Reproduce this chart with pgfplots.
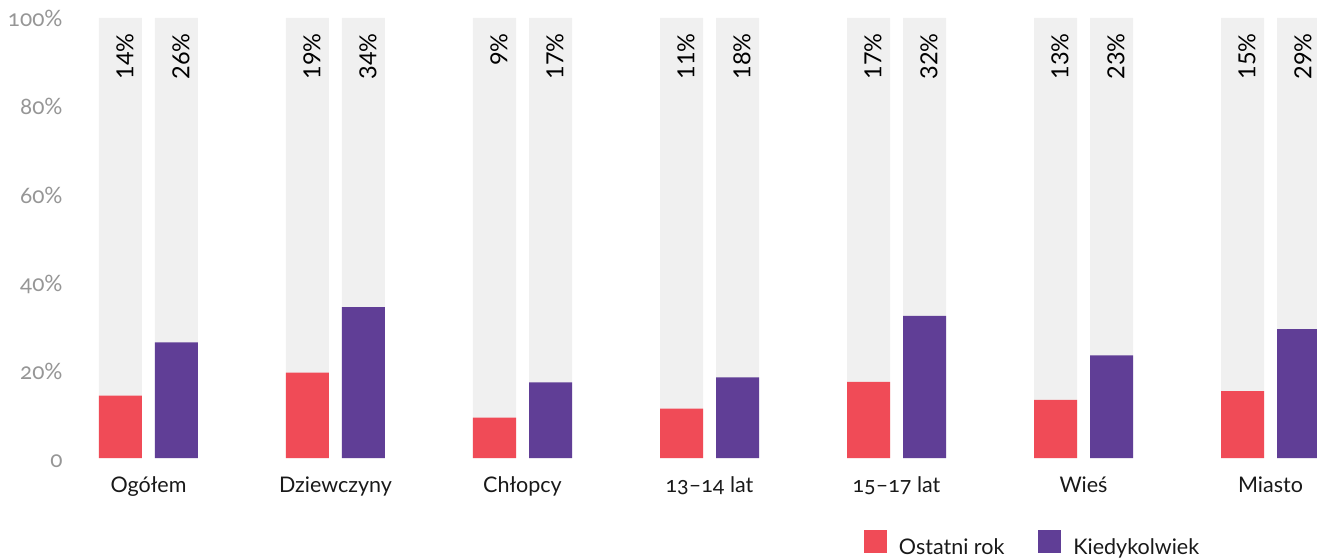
\documentclass[border=0pt]{standalone}
\usepackage{pgfplots}
\pgfplotsset{compat=1.18}
\usepackage{fontspec}
\setmainfont{Lato}[Numbers=OldStyle]
\newfontfamily\lining{Lato}[Numbers=Lining]
\definecolor{cred}{RGB}{240,75,87}
\definecolor{cpurple}{RGB}{96,62,150}
\definecolor{cbg}{RGB}{240,240,240}
\definecolor{ctick}{RGB}{150,150,150}
\definecolor{ctext}{RGB}{25,25,25}
\begin{document}
\begin{tikzpicture}
\begin{axis}[
  x=93.5pt, y=2.2pt,
  xmin=-0.4198, xmax=6.2487,
  ymin=0, ymax=100,
  ybar, bar width=21.5pt,
  axis line style={draw=none},
  major tick length=0pt,
  tick style={draw=none},
  xtick={0,1,2,3,4,5,6},
  xticklabels={Ogółem,Dziewczyny,Chłopcy,13–14 lat,15–17 lat,Wieś,Miasto},
  xticklabel style={font=\fontsize{10.75}{13}\selectfont, text=ctext, anchor=base, inner sep=0pt, yshift=-17.35pt},
  ytick={0,20,40,60,80,100},
  yticklabels={0,20\%,40\%,60\%,80\%,100\%},
  yticklabel style={font=\fontsize{11.3}{13}\selectfont, text=ctick, anchor=base east, inner sep=0pt, xshift=-3.5pt, yshift=-4.5pt},
  point meta=explicit symbolic,
  legend columns=2,
  legend style={draw=none, fill=none, inner sep=0pt, outer sep=0pt,
    at={(axis cs:3.826,-22.5)}, anchor=south west,
    font=\fontsize{10.75}{13}\selectfont, text=ctext,
    nodes={inner sep=0pt, text=ctext},
    /tikz/every odd column/.append style={column sep=6pt},
    /tikz/every even column/.append style={column sep=17pt}},
  legend image code/.code={\fill[#1] (0pt,-2.5pt) rectangle (11.5pt,9pt);},
]
% grey background bars with value labels
\addplot[fill=cbg, draw=none, bar shift=-14pt, forget plot,
  nodes near coords,
  every node near coord/.append style={font=\lining\fontsize{11.75}{14}\selectfont, text=black, inner sep=0pt, xshift=2.25pt, yshift=-7.5pt, rotate=90, anchor=east}]
  coordinates {(0,100) [14\%] (1,100) [19\%] (2,100) [9\%] (3,100) [11\%] (4,100) [17\%] (5,100) [13\%] (6,100) [15\%]};
\addplot[fill=cbg, draw=none, bar shift=14pt, forget plot,
  nodes near coords,
  every node near coord/.append style={font=\lining\fontsize{11.75}{14}\selectfont, text=black, inner sep=0pt, xshift=2.25pt, yshift=-7.5pt, rotate=90, anchor=east}]
  coordinates {(0,100) [26\%] (1,100) [34\%] (2,100) [17\%] (3,100) [18\%] (4,100) [32\%] (5,100) [23\%] (6,100) [29\%]};
% data bars
\addplot[fill=cred, draw=none, bar shift=-14pt]
  coordinates {(0,14.2) (1,19.4) (2,9.2) (3,11.2) (4,17.3) (5,13.2) (6,15.2)};
\addplot[fill=cpurple, draw=none, bar shift=14pt]
  coordinates {(0,26.3) (1,34.3) (2,17.2) (3,18.3) (4,32.3) (5,23.3) (6,29.3)};
\legend{Ostatni rok, Kiedykolwiek}
\coordinate (bl) at (axis cs:-0.7941,-22.5);
\coordinate (tr) at (axis cs:6.2487,104.09);
\end{axis}
\pgfresetboundingbox
\useasboundingbox (bl) rectangle (tr);
\end{tikzpicture}
\end{document}
